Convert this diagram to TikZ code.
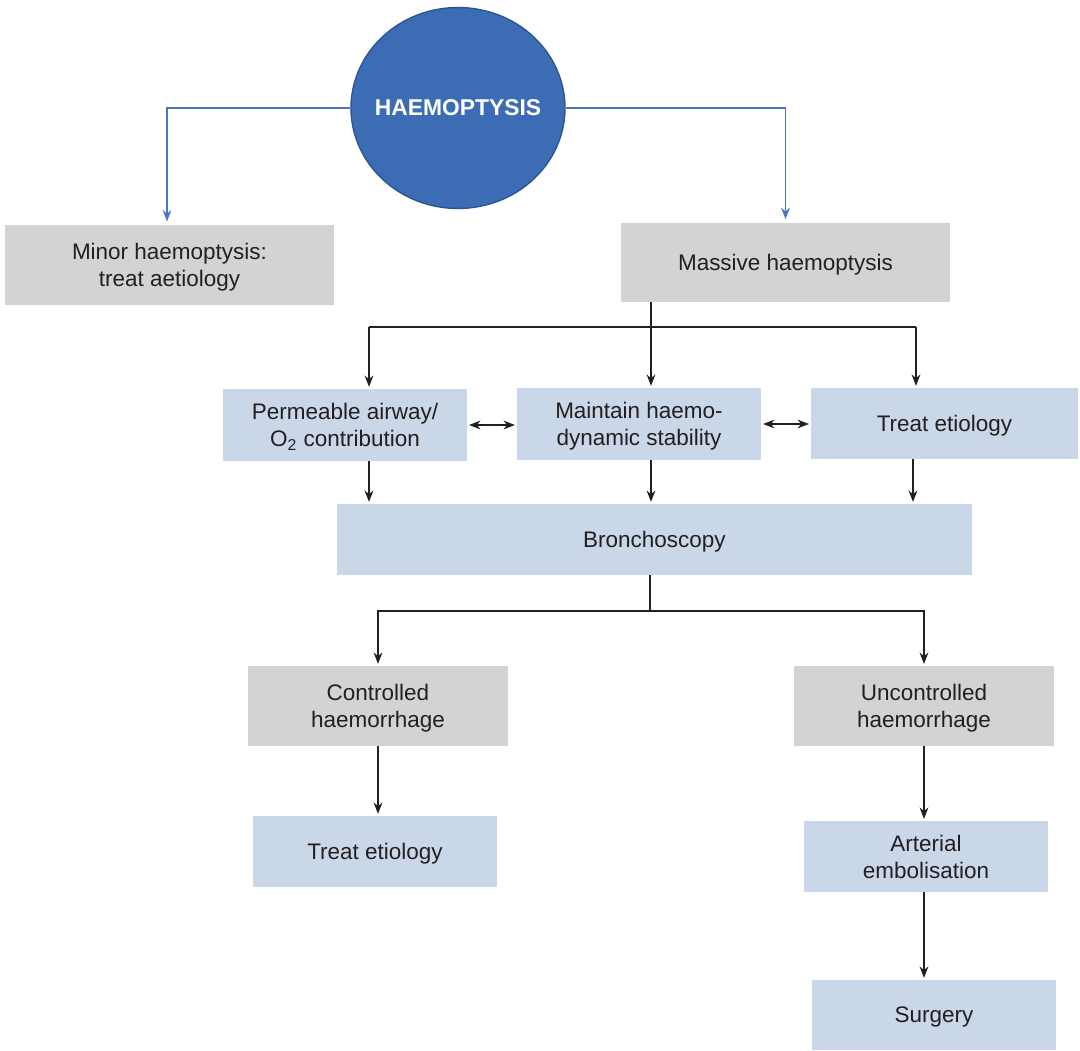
\documentclass[tikz,border=0pt]{standalone}
\usepackage{fontspec}
\setmainfont{Liberation Sans}
\usetikzlibrary{arrows.meta,shapes.geometric}
\definecolor{hblue}{HTML}{3C6DB4}
\definecolor{hedge}{HTML}{2B5593}
\definecolor{hline}{HTML}{4A78C0}
\definecolor{boxgrey}{HTML}{D2D3D5}
\definecolor{boxblue}{HTML}{CAD7E8}
\definecolor{ink}{HTML}{231F20}

\tikzset{
  box/.style={inner sep=0pt, align=center, text=ink, text depth=0pt,
    font=\fontsize{12.8}{15.4}\selectfont},
  greybox/.style={box, fill=boxgrey},
  bluebox/.style={box, fill=boxblue},
  arr/.style={draw=ink, line width=0.8pt, shorten >=1pt,
    -{Stealth[length=6.5pt,width=5pt]}},
  twoarr/.style={draw=ink, line width=0.8pt, shorten >=1pt, shorten <=1pt,
    {Stealth[length=6.5pt,width=5pt]}-{Stealth[length=6.5pt,width=5pt]}},
  bluearr/.style={draw=hline, line width=0.8pt, shorten >=2pt,
    -{Stealth[length=6.5pt,width=5pt]}}
}

\begin{document}
\begin{tikzpicture}[x=0.02cm,y=-0.02cm]
\useasboundingbox (0,0) rectangle (1080,1051);

% top level
\node[ellipse, fill=hblue, draw=hedge, line width=0.8pt, inner sep=0pt,
  minimum width=4.28cm, minimum height=4.02cm, text=white,
  font=\bfseries\fontsize{13}{15}\selectfont] (hae) at (458,108)
  {\makebox[0pt]{HAEMOPTYSIS}};
\node[greybox, minimum width=6.58cm, minimum height=1.6cm] (minor) at (169.5,265)
  {Minor haemoptysis:\\treat aetiology};
\node[greybox, minimum width=6.58cm, minimum height=1.58cm] (massive) at (785.5,262.5)
  {Massive haemoptysis};

% first measures
\node[bluebox, minimum width=4.88cm, minimum height=1.44cm] (airway) at (345,425)
  {Permeable airway/\\O\textsubscript{2} contribution};
\node[bluebox, minimum width=4.88cm, minimum height=1.44cm] (stab) at (639,424)
  {Maintain haemo-\\dynamic stability};
\node[bluebox, minimum width=5.34cm, minimum height=1.42cm] (etiol) at (944.5,423.5)
  {Treat etiology};
\node[bluebox, minimum width=12.7cm, minimum height=1.42cm] (bronch) at (654.5,539.5)
  {Bronchoscopy};

% outcome
\node[greybox, minimum width=5.2cm, minimum height=1.6cm] (ctrl) at (378,706)
  {Controlled\\haemorrhage};
\node[greybox, minimum width=5.2cm, minimum height=1.6cm] (unctrl) at (924,706)
  {Uncontrolled\\haemorrhage};
\node[bluebox, minimum width=4.88cm, minimum height=1.42cm] (etiol2) at (375,851.5)
  {Treat etiology};
\node[bluebox, minimum width=4.88cm, minimum height=1.42cm] (embol) at (926,856.5)
  {Arterial\\embolisation};
\node[bluebox, minimum width=4.88cm, minimum height=1.4cm] (surg) at (934,1015)
  {Surgery};

% junctions
\coordinate (minorin) at (167,225);
\coordinate (fork) at (651,327);
\coordinate (jl) at (369,327);
\coordinate (jr) at (916,327);
\coordinate (jm) at (913,327);
\coordinate (split) at (650,611);

% connectors
\draw[bluearr] (hae.west) -| (minorin);
\draw[bluearr] (hae.east) -| (massive.north);

\draw[arr] (massive.south -| fork) -- (stab.north -| fork);
\draw[ink, line width=0.8pt] (jl) -- (jr);
\draw[arr] (jl) -- (jl |- airway.north);
\draw[arr] (jr) -- (jr |- etiol.north);

\draw[twoarr] (airway.east) -- (airway.east -| stab.west);
\draw[twoarr] (stab.east) -- (stab.east -| etiol.west);

\draw[arr] (airway.south -| jl) -- (bronch.north -| jl);
\draw[arr] (stab.south -| fork) -- (bronch.north -| fork);
\draw[arr] (etiol.south -| jm) -- (bronch.north -| jm);

\draw[ink, line width=0.8pt] (bronch.south -| split) -- (split);
\draw[arr] (split) -| (ctrl.north);
\draw[arr] (split) -| (unctrl.north);

\draw[arr] (ctrl.south) -- (etiol2.north -| ctrl.south);
\draw[arr] (unctrl.south) -- (embol.north -| unctrl.south);
\draw[arr] (embol.south -| unctrl.south) -- (surg.north -| unctrl.south);
\end{tikzpicture}
\end{document}
